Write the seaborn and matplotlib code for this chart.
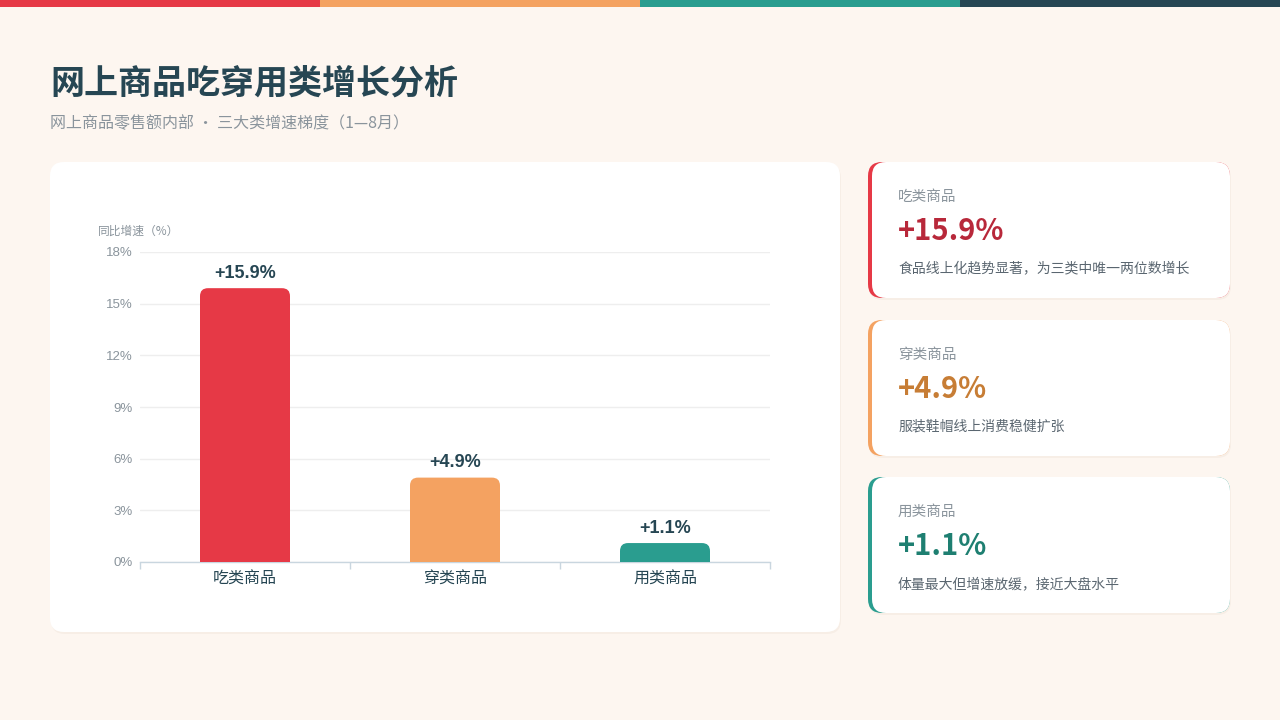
import pandas as pd
import matplotlib
matplotlib.use("Agg")
import matplotlib.pyplot as plt
from matplotlib.patches import FancyBboxPatch, Rectangle
import seaborn as sns

# data
categories = ["吃类商品", "穿类商品", "用类商品"]
growth = [15.9, 4.9, 1.1]
bar_colors = ["#E63946", "#F4A261", "#2A9D8F"]
value_colors = ["#B8283A", "#C77D35", "#1E7F71"]
notes = ["食品线上化趋势显著，为三类中唯一两位数增长",
         "服装鞋帽线上消费稳健扩张",
         "体量最大但增速放缓，接近大盘水平"]
y_ticks = [0, 3, 6, 9, 12, 15, 18]

title = "网上商品吃穿用类增长分析"
subtitle = "网上商品零售额内部 · 三大类增速梯度（1—8月）"

sns.set_theme(style="white")
plt.rcParams["font.family"] = ["Noto Sans CJK SC", "DejaVu Sans"]

W, H = 1280, 720
BG = "#FDF6F0"
DARK = "#264653"
GRAY = "#8A949C"

fig = plt.figure(figsize=(W / 100, H / 100), dpi=100)
fig.patch.set_facecolor(BG)


def fx(x):
    return x / W


def fy(y):
    return 1 - y / H


def rbox(x, y, w, h, r, color, z=0, alpha=1.0):
    # x, y = top-left in pixels
    p = FancyBboxPatch((fx(x), fy(y + h)), fx(w), h / H,
                       boxstyle="round,pad=0,rounding_size=%f" % fx(r),
                       mutation_aspect=W / H, transform=fig.transFigure,
                       facecolor=color, edgecolor="none", zorder=z, alpha=alpha)
    fig.patches.append(p)


# top stripe
for i, c in enumerate(["#E63946", "#F4A261", "#2A9D8F", "#264653"]):
    fig.patches.append(Rectangle((fx(320 * i), fy(7)), fx(320), 7 / H,
                                 transform=fig.transFigure, facecolor=c,
                                 edgecolor="none", zorder=1))

fig.text(fx(50), fy(83), title, fontsize=24.5, fontweight="bold", color=DARK,
         va="center", ha="left")
fig.text(fx(50), fy(124), subtitle, fontsize=11.5, color=GRAY,
         va="center", ha="left")

# chart card
rbox(51, 164, 790, 470, 14, "#F3E9E0", z=0, alpha=0.6)
rbox(50, 162, 790, 470, 14, "white", z=0.5)

ax = fig.add_axes([fx(140), 1 - 562 / H, fx(630), 310 / H])
ax.set_zorder(2)
ax.set_facecolor("none")
df = pd.DataFrame({"category": categories, "growth": growth})
sns.barplot(data=df, x="category", y="growth", hue="category",
            palette=bar_colors, legend=False, width=90 / 210,
            saturation=1, ax=ax)
ax.set_xlim(-0.5, 2.5)
ax.set_ylim(0, 18)

# rounded bar tops
px_x = 630 / 3.0
px_y = 310 / 18.0
r_px = 8
for bar, val in zip(list(ax.patches), growth):
    x0, y0 = bar.get_x(), bar.get_y()
    bw, bh = bar.get_width(), bar.get_height()
    col = bar.get_facecolor()
    bar.set_visible(False)
    rs = r_px / px_x
    extra = r_px / px_y
    rb = FancyBboxPatch((x0, y0 - extra), bw, bh + extra,
                        boxstyle="round,pad=0,rounding_size=%f" % rs,
                        mutation_aspect=px_x / px_y, facecolor=col,
                        edgecolor="none", zorder=3, clip_on=True)
    ax.add_patch(rb)
    ax.text(x0 + bw / 2, val + 15 / px_y, "+%.1f%%" % val, ha="center",
            va="center", fontsize=13, fontweight="bold", color=DARK,
            family=["Liberation Sans"])

ax.set_yticks(y_ticks)
ax.set_yticklabels(["%d%%" % t for t in y_ticks], family=["Liberation Sans"])
ax.yaxis.grid(True, color="#EEEEEE", linewidth=1)
ax.set_axisbelow(True)
ax.tick_params(axis="y", length=0, labelsize=9.5, labelcolor=GRAY, pad=5)
ax.tick_params(axis="x", length=0, labelsize=11.5, labelcolor=DARK, pad=6)
ax.set_xticks([-0.5, 0.5, 1.5, 2.5], minor=True)
ax.tick_params(axis="x", which="minor", bottom=True, direction="out",
               length=5, color="#C9D6DF", width=1)
ax.set_xlabel("")
ax.set_ylabel("")
for s in ["top", "right", "left"]:
    ax.spines[s].set_visible(False)
ax.spines["bottom"].set_color("#C9D6DF")
ax.spines["bottom"].set_linewidth(1)

fig.text(fx(98), fy(231), "同比增速（%）", fontsize=8.5, color=GRAY,
         va="center", ha="left")

# side cards
card_tops = [162, 320, 477]
for i in range(3):
    top = card_tops[i]
    rbox(869, top + 2, 362, 136, 14, "#F3E9E0", z=0, alpha=0.6)
    rbox(868, top, 362, 136, 14, bar_colors[i], z=0.5)
    rbox(872, top, 358, 136, 14, "white", z=0.6)
    fig.text(fx(898), fy(top + 35), categories[i], fontsize=10.5, color=GRAY,
             va="center", ha="left")
    fig.text(fx(898), fy(top + 69), "+%.1f%%" % growth[i], fontsize=21,
             fontweight="bold", color=value_colors[i], va="center", ha="left")
    fig.text(fx(898), fy(top + 107), notes[i], fontsize=10, color="#5A6670",
             va="center", ha="left")

fig.savefig("out.png", dpi=100, facecolor=BG)
